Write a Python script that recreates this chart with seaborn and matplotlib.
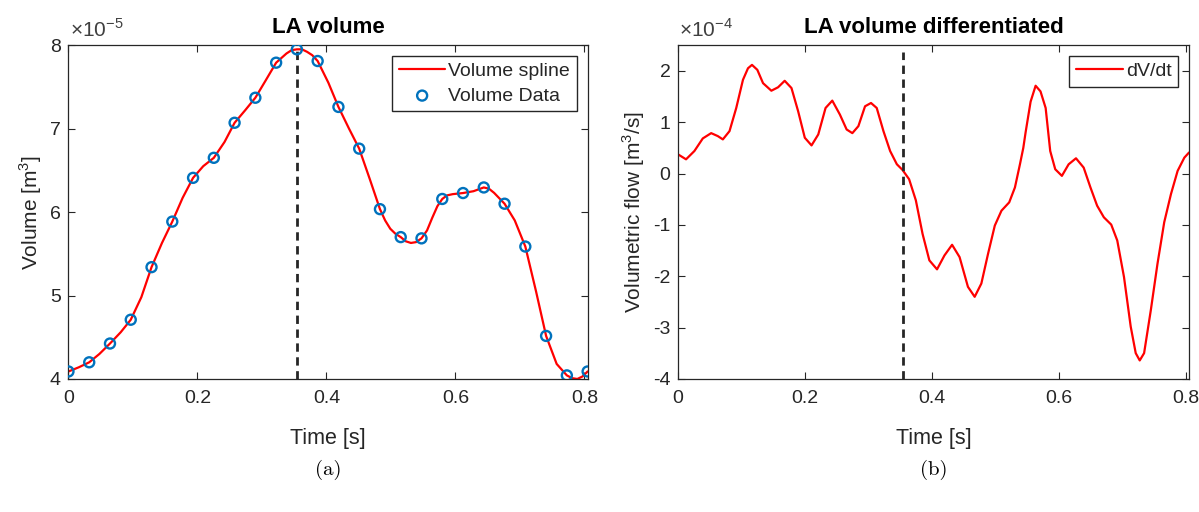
import numpy as np
import matplotlib
matplotlib.use('Agg')
import matplotlib.pyplot as plt
import matplotlib.ticker as mticker
import seaborn as sns

# volume samples (m^3, x1e-5)
data_t = [0.0, 0.0322, 0.0644, 0.0966, 0.1288, 0.161, 0.1932, 0.2254, 0.2576, 0.2898,
          0.322, 0.3542, 0.3864, 0.4186, 0.4508, 0.483, 0.5152, 0.5474, 0.5796, 0.6118,
          0.644, 0.6762, 0.7084, 0.7406, 0.7728, 0.805]
data_v = [4.09, 4.20, 4.425, 4.71, 5.34, 5.886, 6.41, 6.65, 7.07, 7.37,
          7.79, 7.95, 7.81, 7.26, 6.76, 6.035, 5.70, 5.685, 6.157, 6.228,
          6.295, 6.10, 5.587, 4.516, 4.043, 4.09]

# spline (x1e-5)
spline_t = [0.0, 0.016, 0.0322, 0.048, 0.0644, 0.081, 0.0966, 0.113, 0.1288, 0.145,
            0.161, 0.177, 0.1932, 0.209, 0.2254, 0.242, 0.2576, 0.274, 0.2898, 0.306,
            0.322, 0.338, 0.346, 0.3542, 0.362, 0.370, 0.378, 0.3864, 0.403, 0.4186,
            0.435, 0.4508, 0.467, 0.483, 0.491, 0.499, 0.507, 0.5152, 0.523, 0.531,
            0.539, 0.5474, 0.556, 0.564, 0.572, 0.5796, 0.587, 0.596, 0.6118, 0.628,
            0.644, 0.652, 0.660, 0.6762, 0.692, 0.7084, 0.725, 0.7406, 0.757, 0.7728,
            0.781, 0.789, 0.797, 0.805]
spline_v = [4.09, 4.14, 4.20, 4.30, 4.425, 4.56, 4.71, 4.98, 5.34, 5.63,
            5.886, 6.17, 6.41, 6.55, 6.65, 6.84, 7.07, 7.22, 7.37, 7.58,
            7.79, 7.90, 7.94, 7.95, 7.95, 7.92, 7.88, 7.81, 7.55, 7.26,
            7.00, 6.76, 6.40, 6.035, 5.90, 5.80, 5.74, 5.70, 5.65, 5.63,
            5.64, 5.685, 5.78, 5.93, 6.07, 6.157, 6.20, 6.215, 6.228, 6.25,
            6.295, 6.28, 6.23, 6.10, 5.90, 5.587, 5.05, 4.516, 4.18, 4.043,
            4.01, 4.00, 4.03, 4.09]

# dV/dt (x1e-4)
flow_t = [0.0, 0.0126, 0.0258, 0.039, 0.0522, 0.0627, 0.0706, 0.0811, 0.0917, 0.1023,
          0.1102, 0.1165, 0.1249, 0.1339, 0.147, 0.1576, 0.168, 0.1787, 0.1892, 0.1997,
          0.2103, 0.2209, 0.2324, 0.243, 0.255, 0.2656, 0.2746, 0.2841, 0.2946, 0.304,
          0.313, 0.3236, 0.3341, 0.3447, 0.3536, 0.364, 0.3746, 0.3852, 0.3959, 0.408,
          0.4197, 0.4317, 0.4435, 0.4567, 0.4673, 0.4778, 0.4884, 0.499, 0.5095, 0.5217,
          0.5307, 0.5386, 0.5439, 0.5475, 0.5554, 0.5633, 0.571, 0.5791, 0.5863, 0.5942,
          0.6047, 0.6153, 0.6269, 0.639, 0.6497, 0.6602, 0.6708, 0.6824, 0.6919, 0.7025,
          0.7131, 0.721, 0.7273, 0.7342, 0.7448, 0.7553, 0.7659, 0.7765, 0.787, 0.7976,
          0.805]
flow_v = [0.374, 0.277, 0.439, 0.684, 0.787, 0.729, 0.665, 0.826, 1.277, 1.826,
          2.05, 2.116, 2.02, 1.76, 1.613, 1.68, 1.806, 1.665, 1.213, 0.697,
          0.548, 0.761, 1.277, 1.42, 1.148, 0.858, 0.787, 0.923, 1.31, 1.374,
          1.277, 0.826, 0.439, 0.181, 0.071, -0.11, -0.52, -1.174, -1.69, -1.865,
          -1.594, -1.387, -1.626, -2.206, -2.40, -2.142, -1.561, -1.013, -0.723, -0.561,
          -0.271, 0.18, 0.50, 0.80, 1.40, 1.71, 1.60, 1.277, 0.439, 0.084,
          -0.045, 0.18, 0.297, 0.116, -0.271, -0.626, -0.852, -0.994, -1.303, -2.013,
          -2.98, -3.497, -3.639, -3.497, -2.658, -1.755, -0.948, -0.40, 0.052, 0.31,
          0.41]
flow_marker_top = 2.37

data_v = np.array(data_v) * 1e-5
spline_v = np.array(spline_v) * 1e-5
flow_v = np.array(flow_v) * 1e-4
peak_t = data_t[int(np.argmax(data_v))]

sns.set_style('ticks')
plt.rcParams['font.family'] = ['Liberation Sans', 'DejaVu Sans']
plt.rcParams['mathtext.fontset'] = 'custom'
plt.rcParams['mathtext.rm'] = 'Liberation Sans'
plt.rcParams['axes.unicode_minus'] = False
plt.rcParams['text.color'] = '#262626'
plt.rcParams['axes.labelcolor'] = '#262626'
plt.rcParams['xtick.color'] = '#262626'
plt.rcParams['ytick.color'] = '#262626'

fig = plt.figure(figsize=(11.99, 5.12), dpi=100)
ax1 = fig.add_axes([0.0571, 0.2598, 0.433, 0.652])
ax2 = fig.add_axes([0.5655, 0.2598, 0.4262, 0.652])

red = '#FF0000'
blue = '#0072BD'
dark = '#262626'

# (a) volume
sns.lineplot(x=spline_t, y=spline_v, ax=ax1, color=red, lw=1.6, sort=False, label='Volume spline')
sns.scatterplot(x=data_t, y=data_v, ax=ax1, marker='o', s=52, facecolor='none',
                edgecolor=blue, linewidth=1.7, label='Volume Data', zorder=3)
ax1.plot([peak_t, peak_t], [4e-5, data_v.max()], color=dark, lw=2, dashes=(3, 2))
ax1.set_xlim(0, 0.805)
ax1.set_ylim(4e-5, 8e-5)
ax1.set_yticks(np.array([4, 5, 6, 7, 8]) * 1e-5)
ax1.yaxis.set_major_formatter(mticker.FuncFormatter(lambda v, p: f'{v / 1e-5:g}'))
ax1.text(0.002, 1.024, r'$\times10^{-5}$', transform=ax1.transAxes, fontsize=15,
         color='#404040', va='baseline', ha='left')
ax1.set_title('LA volume', fontsize=16, fontweight='bold', color='black', pad=9)
ax1.set_ylabel('Volume [m$^3$]', fontsize=15)

# (b) flow
sns.lineplot(x=flow_t, y=flow_v, ax=ax2, color=red, lw=1.6, sort=False, label='dV/dt')
ax2.plot([peak_t, peak_t], [-4e-4, flow_marker_top * 1e-4], color=dark, lw=2, dashes=(3, 2))
ax2.set_xlim(0, 0.805)
ax2.set_ylim(-4e-4, 2.5e-4)
ax2.set_yticks(np.array([-4, -3, -2, -1, 0, 1, 2]) * 1e-4)
ax2.yaxis.set_major_formatter(mticker.FuncFormatter(lambda v, p: f'{round(v / 1e-4):d}'))
ax2.text(0.002, 1.024, r'$\times10^{-4}$', transform=ax2.transAxes, fontsize=15,
         color='#404040', va='baseline', ha='left')
ax2.set_title('LA volume differentiated', fontsize=16, fontweight='bold', color='black', pad=9)
ax2.set_ylabel('Volumetric flow [m$^3$/s]', fontsize=15)

for ax in (ax1, ax2):
    ax.set_xticks([0, 0.2, 0.4, 0.6, 0.8])
    ax.set_xticklabels(['0', '0.2', '0.4', '0.6', '0.8'])
    ax.set_xlabel('Time [s]', fontsize=15.5, labelpad=15)
    ax.tick_params(direction='in', top=True, right=True, labelsize=14, length=5, width=0.8)
    ax.tick_params(axis='x', pad=8)
    ax.tick_params(axis='y', pad=5.5)
    for sp in ax.spines.values():
        sp.set_visible(True)
        sp.set_color(dark)
        sp.set_linewidth(0.9)
    ax.legend(loc='upper right', fontsize=14, frameon=True, fancybox=False, framealpha=1,
              edgecolor=dark, handlelength=2.4, borderaxespad=0.55, borderpad=0.35,
              labelspacing=0.35, handletextpad=0.15)

fig.text(0.2736, 0.082, '(a)', fontsize=15, family='cmr10', ha='center', va='center', color='black')
fig.text(0.7786, 0.082, '(b)', fontsize=15, family='cmr10', ha='center', va='center', color='black')

fig.savefig('out.png', dpi=100)
